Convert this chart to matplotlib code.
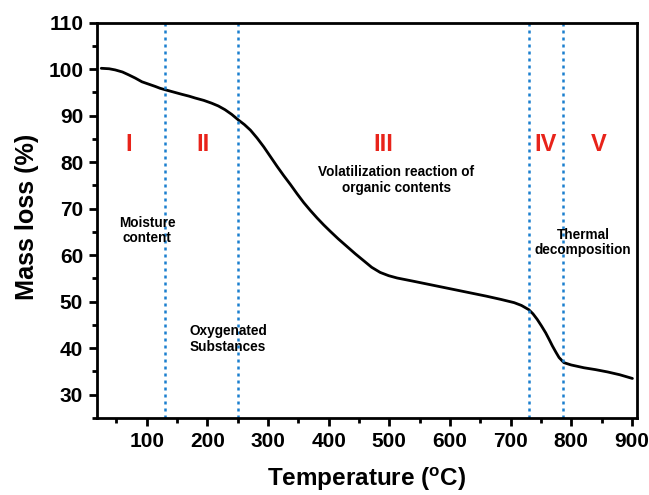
import numpy as np
import matplotlib
matplotlib.use('Agg')
import matplotlib.pyplot as plt
from matplotlib.ticker import MultipleLocator

plt.rcParams['font.family'] = ['Liberation Sans', 'DejaVu Sans']
plt.rcParams['mathtext.fontset'] = 'custom'
plt.rcParams['mathtext.bf'] = 'Liberation Sans:bold'

# TGA curve: temperature (C) vs remaining mass (%)
temperature = [25, 38, 48, 60, 70, 81, 92, 103, 114, 122, 130, 144, 158, 170, 180, 194, 207,
               218, 229, 240, 251, 261, 271, 282, 293, 304, 315, 326, 337, 348, 359, 370,
               381, 392, 403, 416, 430, 444, 458, 471, 485, 499, 513, 540, 570, 600, 630,
               660, 684, 706, 718, 730, 737, 744, 751, 758, 764, 769, 775, 780, 788, 800,
               821, 840, 860, 880, 901]
mass = [100.2, 100.1, 99.85, 99.4, 98.8, 98.1, 97.3, 96.8, 96.3, 95.9, 95.6, 95.1, 94.6, 94.2,
        93.8, 93.3, 92.7, 92.1, 91.3, 90.3, 89.1, 88.1, 86.9, 85.2, 83.3, 81.2, 79.1, 77.1,
        75.2, 73.2, 71.3, 69.6, 68.0, 66.5, 65.1, 63.5, 61.9, 60.3, 58.8, 57.4, 56.3, 55.6,
        55.1, 54.4, 53.6, 52.8, 52.0, 51.2, 50.5, 49.8, 49.2, 48.3, 47.4, 46.2, 44.8, 43.3,
        41.8, 40.5, 39.1, 38.0, 36.9, 36.4, 35.8, 35.4, 34.9, 34.3, 33.5]

# stage boundaries
boundaries = [130, 251, 730, 787]

stage_labels = ['I', 'II', 'III', 'IV', 'V']
stage_x = [71, 193, 490, 758, 845]
stage_y = 83.8

notes = ['Moisture\ncontent', 'Oxygenated\nSubstances',
         'Volatilization reaction of\norganic contents', 'Thermal\ndecomposition']
note_x = [101, 171, 512, 820]
note_y = [65.3, 42.0, 76.2, 62.7]
note_ha = ['center', 'left', 'center', 'center']

fig = plt.figure(figsize=(6.49, 4.95), dpi=100)
ax = fig.add_axes([0.1495, 0.1556, 0.8315, 0.7985])

ax.plot(temperature, mass, color='black', lw=2.0, solid_capstyle='round')
for b in boundaries:
    ax.axvline(b, color='#1a7fcf', lw=1.8, ls=(0, (1.2, 1.6)))

for lab, x in zip(stage_labels, stage_x):
    ax.text(x, stage_y, lab, color='#e8231a', fontsize=17, fontweight='bold',
            ha='center', va='center')
for txt, x, y, ha in zip(notes, note_x, note_y, note_ha):
    ax.text(x, y, txt, fontsize=9.8, fontweight='bold', ha=ha, va='center',
            linespacing=1.15)

ax.set_xlim(18, 908)
ax.set_ylim(25, 110)
ax.xaxis.set_major_locator(MultipleLocator(100))
ax.xaxis.set_minor_locator(MultipleLocator(50))
ax.yaxis.set_major_locator(MultipleLocator(10))
ax.yaxis.set_minor_locator(MultipleLocator(5))
ax.set_yticks(np.arange(30, 111, 10))
ax.set_xticks(np.arange(100, 901, 100))

for s in ax.spines.values():
    s.set_linewidth(2.0)
ax.tick_params(which='major', direction='out', length=6, width=2, labelsize=15, pad=4)
ax.tick_params(which='minor', direction='out', length=3.5, width=2)
for lbl in ax.get_xticklabels() + ax.get_yticklabels():
    lbl.set_fontweight('bold')

ax.set_xlabel(r'Temperature ($\mathbf{^{o}}$C)', fontsize=17.5, fontweight='bold')
ax.set_ylabel('Mass loss (%)', fontsize=18.2, fontweight='bold')
ax.xaxis.set_label_coords(0.5, -0.122)
ax.yaxis.set_label_coords(-0.108, 0.51)

fig.savefig('out.png', dpi=100)
